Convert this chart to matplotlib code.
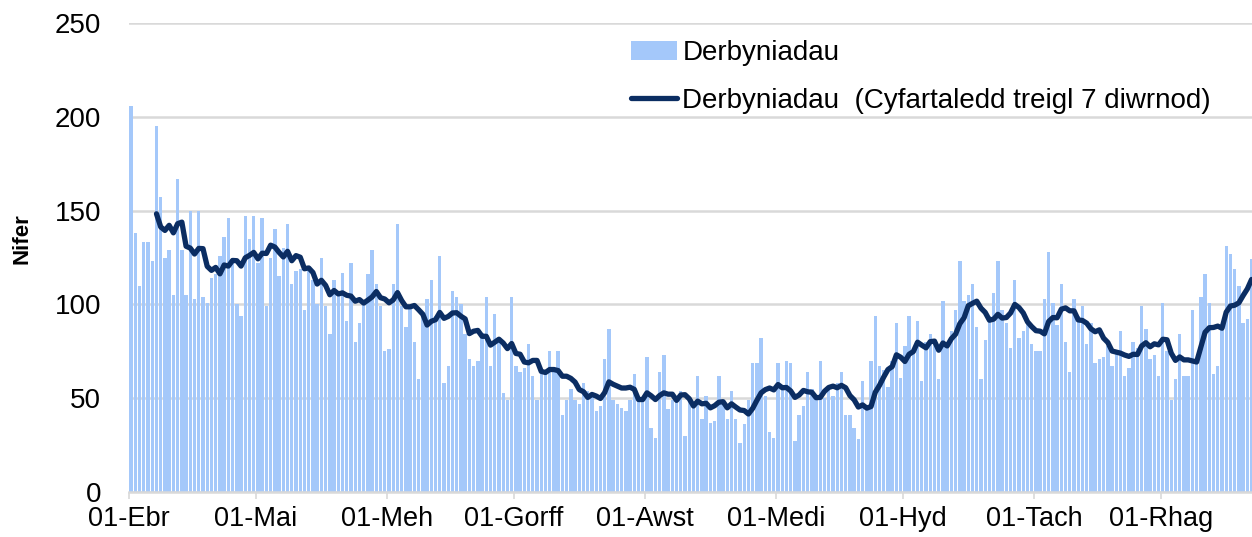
import matplotlib
matplotlib.use("Agg")
import matplotlib.pyplot as plt
import numpy as np
import pandas as pd

plt.rcParams['font.family'] = ['Liberation Sans', 'DejaVu Sans']

# Derbyniadau dyddiol, 01-Ebr ymlaen
derbyniadau = [
    206, 138, 110, 133, 133, 123, 195, 157, 125, 129, 105, 167, 129, 105, 150, 103, 150, 104, 101, 114, 116, 126, 136, 146, 125, 100, 94,
    147, 135, 147, 122, 146, 99, 125, 140, 115, 130, 143, 111, 118, 119, 97, 118, 113, 100, 125, 99, 84, 113, 105, 117, 91, 122,
    80, 90, 100, 116, 129, 111, 99, 75, 76, 111, 143, 99, 88, 99, 80, 60, 94, 103, 113, 94, 126, 58, 67, 107, 104, 100,
    84, 71, 67, 70, 85, 104, 67, 95, 82, 53, 49, 104, 67, 64, 66, 79, 62, 49, 63, 63, 75, 66, 75, 41, 49, 55,
    49, 47, 58, 54, 52, 43, 46, 71, 87, 49, 47, 45, 43, 49, 63, 49, 49, 72, 34, 29, 64, 73, 44, 49, 49,
    54, 30, 49, 46, 62, 39, 51, 37, 38, 62, 48, 39, 54, 39, 26, 36, 49, 69, 69, 82, 51, 32, 29, 69, 57,
    70, 69, 27, 41, 46, 64, 55, 50, 70, 50, 55, 51, 58, 64, 41, 41, 34, 28, 59, 46, 70, 94, 67, 65, 56, 70, 90, 61,
    78, 94, 75, 91, 59, 80, 84, 80, 60, 102, 80, 86, 97, 123, 102, 105, 111, 88, 60, 81, 94, 106, 123, 97, 90,
    77, 113, 82, 86, 90, 79, 75, 75, 103, 128, 101, 89, 111, 80, 64, 103, 94, 99, 79, 90, 69, 71, 72, 78, 67, 75,
    86, 62, 66, 80, 77, 99, 87, 71, 73, 62, 101, 75, 49, 60, 84, 62, 62, 97, 71, 104, 116, 101, 63, 67, 89, 131, 127, 119, 110, 90, 92, 124,
]
month_starts = [0, 30, 61, 91, 122, 153, 183, 214, 244]
month_labels = ['01-Ebr', '01-Mai', '01-Meh', '01-Gorff', '01-Awst', '01-Medi', '01-Hyd', '01-Tach', '01-Rhag']

vals = pd.Series(derbyniadau)
cyfartaledd = vals.rolling(7).mean()
x = np.arange(len(vals)) + 0.5

fig = plt.figure(figsize=(12.52, 5.37), dpi=100)
ax = fig.add_axes([129 / 1252, 45 / 537, 1 - 129 / 1252, (492 - 23) / 537])

bars = ax.bar(x, vals, width=0.8, color='#a4c8fa', label='Derbyniadau', zorder=2)
line, = ax.plot(x, cyfartaledd, color='#0b2d62', lw=3.8, solid_capstyle='round',
                label='Derbyniadau  (Cyfartaledd treigl 7 diwrnod)', zorder=3)

ax.set_xlim(0, 265.6)
ax.set_ylim(0, 250)
ax.set_yticks(range(0, 251, 50))
ax.yaxis.grid(True, color='#d9d9d9', lw=1.8)
ax.set_axisbelow(True)
for s in ['top', 'right', 'left']:
    ax.spines[s].set_visible(False)
ax.spines['bottom'].set_color('#d9d9d9')
ax.spines['bottom'].set_linewidth(1.8)
ax.set_xticks(month_starts)
ax.set_xticklabels(month_labels)
ax.tick_params(axis='x', length=5, width=1.2, color='#d9d9d9', labelsize=19.5, pad=5)
ax.tick_params(axis='y', length=0, labelsize=20, pad=20)
ax.set_ylabel('Nifer', fontsize=16, fontweight='bold')
ax.yaxis.set_label_coords(-0.086, 0.54)

ax.legend([bars, line], [bars.get_label(), line.get_label()],
          loc='upper left', bbox_to_anchor=(631 / 1252, 1 - 40 / 537), bbox_transform=fig.transFigure,
          frameon=False, fontsize=20, handlelength=1.65, handletextpad=0.2, labelspacing=0.78,
          borderpad=0, borderaxespad=0)

fig.savefig('out.png', dpi=100)
